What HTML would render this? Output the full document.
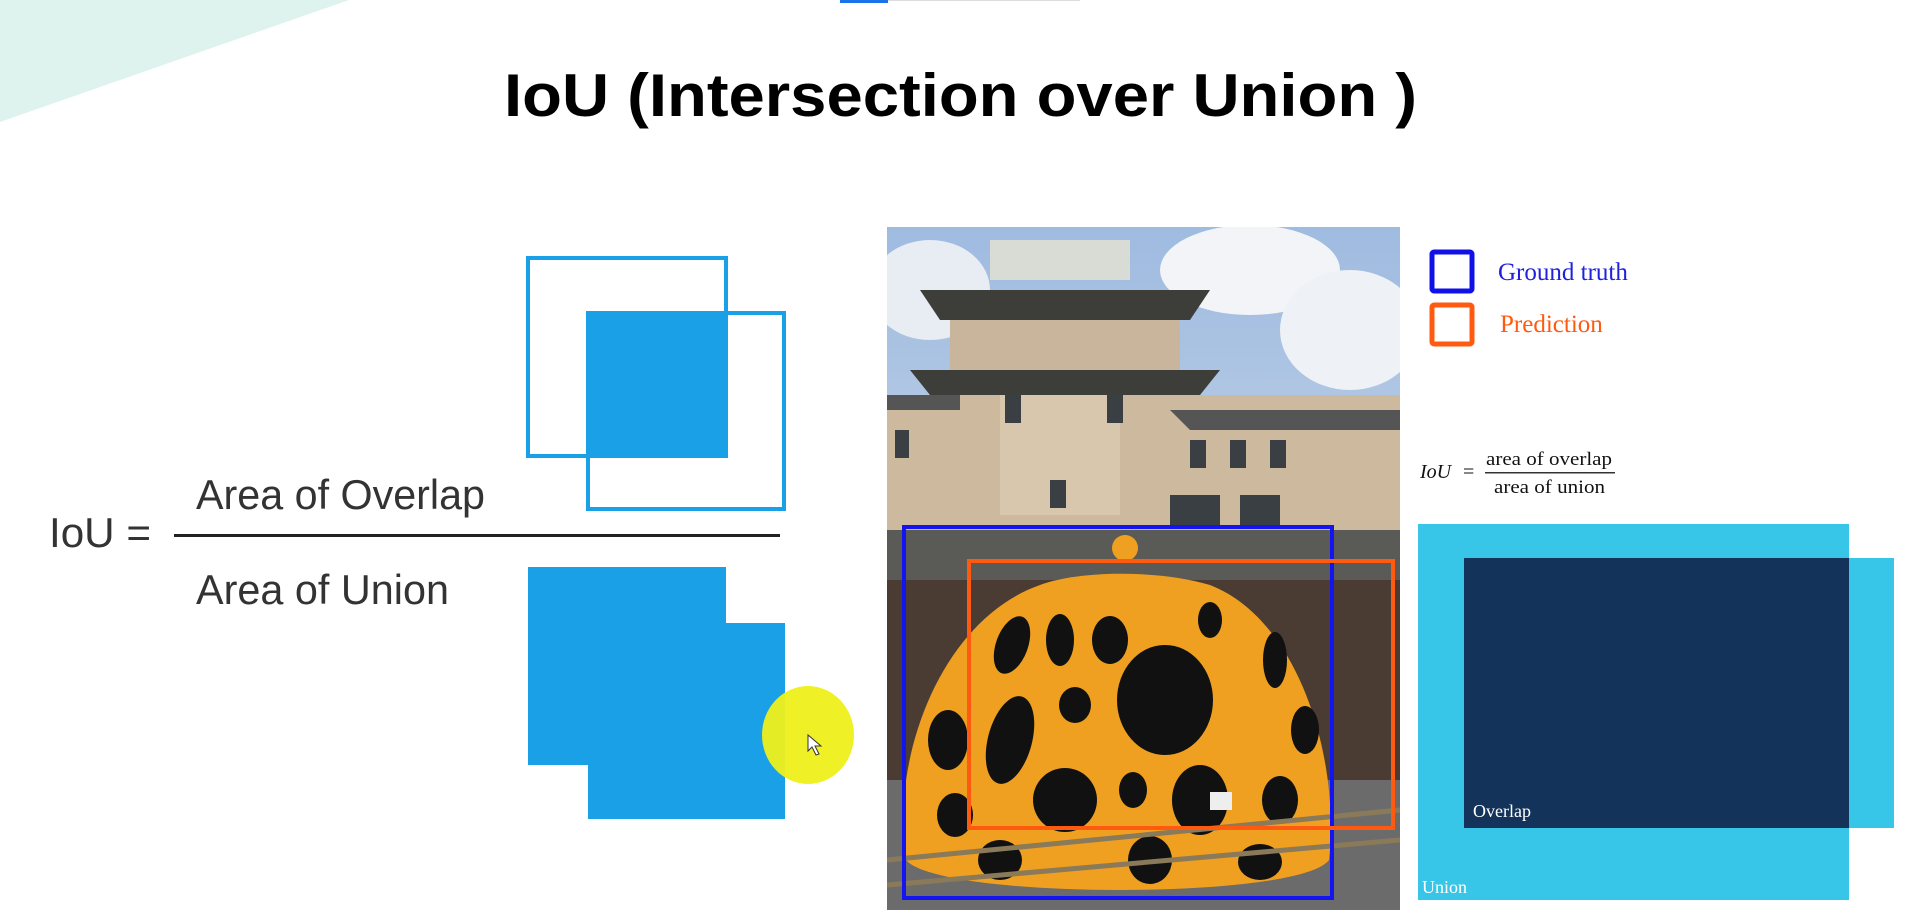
<!DOCTYPE html>
<html><head><meta charset="utf-8"><style>
html,body{margin:0;padding:0;background:#fff;}
svg{display:block;}
</style></head><body>
<svg width="1920" height="915" viewBox="0 0 1920 915" xmlns="http://www.w3.org/2000/svg">
<polygon points="0,0 349,0 0,122" fill="#dff3ee"/>
<rect x="840" y="0" width="48" height="3" fill="#1a73e8"/>
<rect x="888" y="0" width="192" height="1" fill="#ddd"/>
<text x="504" y="116" font-family="Liberation Sans, sans-serif" font-weight="bold" font-size="60" fill="#000" textLength="913" lengthAdjust="spacingAndGlyphs">IoU (Intersection over Union )</text>

<!-- left diagram -->
<rect x="528" y="258" width="198" height="198" fill="none" stroke="#1aa0e6" stroke-width="4"/>
<rect x="588" y="313" width="196" height="196" fill="none" stroke="#1aa0e6" stroke-width="4"/>
<rect x="588" y="313" width="138" height="143" fill="#1aa0e6"/>
<text x="49" y="547" font-family="Liberation Sans, sans-serif" font-size="42" fill="#333" textLength="102" lengthAdjust="spacingAndGlyphs">IoU =</text>
<text x="196" y="509" font-family="Liberation Sans, sans-serif" font-size="42" fill="#333" textLength="289" lengthAdjust="spacingAndGlyphs">Area of Overlap</text>
<rect x="174" y="534" width="606" height="3" fill="#222"/>
<text x="196" y="604" font-family="Liberation Sans, sans-serif" font-size="42" fill="#333" textLength="253" lengthAdjust="spacingAndGlyphs">Area of Union</text>
<rect x="528" y="567" width="198" height="198" fill="#1aa0e6"/>
<rect x="588" y="623" width="197" height="196" fill="#1aa0e6"/>
<ellipse cx="808" cy="735" rx="46" ry="49" fill="#eef01a" opacity="0.95"/>
<path d="M808,735 l0,16 l4,-4 l4,8 l3,-1 l-4,-8 l6,0 z" fill="#fff" stroke="#333" stroke-width="1"/>

<!-- photo -->
<defs>
<linearGradient id="sky" x1="0" y1="0" x2="0" y2="1"><stop offset="0" stop-color="#9fbbe0"/><stop offset="1" stop-color="#dfe6ee"/></linearGradient>
<clipPath id="pc"><rect x="887" y="227" width="513" height="683"/></clipPath>
</defs>
<g clip-path="url(#pc)">
<rect x="887" y="227" width="513" height="683" fill="url(#sky)"/>
<ellipse cx="1250" cy="270" rx="90" ry="45" fill="#f2f4f7"/>
<ellipse cx="1350" cy="330" rx="70" ry="60" fill="#eef1f5"/>
<ellipse cx="930" cy="290" rx="60" ry="50" fill="#e8edf3"/>
<!-- building -->
<rect x="990" y="240" width="140" height="40" fill="#d8dcd4"/>
<polygon points="920,290 1210,290 1190,320 940,320" fill="#3d3d3a"/>
<rect x="950" y="320" width="230" height="60" fill="#c8b59c"/>
<polygon points="910,370 1220,370 1200,395 930,395" fill="#3d3d3a"/>
<rect x="887" y="395" width="513" height="145" fill="#cdb99e"/>
<polygon points="887,395 960,395 960,410 887,410" fill="#555"/>
<polygon points="1170,410 1400,410 1400,430 1190,430" fill="#555"/>
<rect x="1000" y="395" width="120" height="120" fill="#d8c7ad"/>
<g fill="#3a3f44">
<rect x="1005" y="395" width="16" height="28"/><rect x="1107" y="395" width="16" height="28"/>
<rect x="1190" y="440" width="16" height="28"/><rect x="1230" y="440" width="16" height="28"/><rect x="1270" y="440" width="16" height="28"/>
<rect x="1050" y="480" width="16" height="28"/><rect x="1170" y="495" width="50" height="30"/><rect x="1240" y="495" width="40" height="30"/>
<rect x="895" y="430" width="14" height="28"/>
</g>
<polygon points="887,530 1400,530 1400,580 887,580" fill="#5a5a56"/>
<rect x="887" y="580" width="513" height="200" fill="#4a3c33"/>
<rect x="887" y="780" width="513" height="130" fill="#6b6b6b"/>
<!-- pumpkin -->
<path d="M906,860 C890,760 940,620 1040,585 C1080,570 1160,570 1210,585 C1300,620 1340,760 1329,860 C1300,900 940,900 906,860 Z" fill="#f0a020"/>
<g fill="#111">
<ellipse cx="1165" cy="700" rx="48" ry="55"/>
<ellipse cx="1012" cy="645" rx="16" ry="30" transform="rotate(20 1012 645)"/>
<ellipse cx="1060" cy="640" rx="14" ry="26"/>
<ellipse cx="1110" cy="640" rx="18" ry="24"/>
<ellipse cx="1210" cy="620" rx="12" ry="18"/>
<ellipse cx="1275" cy="660" rx="12" ry="28"/>
<ellipse cx="1305" cy="730" rx="14" ry="24"/>
<ellipse cx="1075" cy="705" rx="16" ry="18"/>
<ellipse cx="1010" cy="740" rx="22" ry="45" transform="rotate(15 1010 740)"/>
<ellipse cx="948" cy="740" rx="20" ry="30"/>
<ellipse cx="1065" cy="800" rx="32" ry="32"/>
<ellipse cx="1200" cy="800" rx="28" ry="35"/>
<ellipse cx="1133" cy="790" rx="14" ry="18"/>
<ellipse cx="1280" cy="800" rx="18" ry="24"/>
<ellipse cx="955" cy="815" rx="18" ry="22"/>
<ellipse cx="1000" cy="860" rx="22" ry="20"/>
<ellipse cx="1150" cy="860" rx="22" ry="24"/>
<ellipse cx="1260" cy="862" rx="22" ry="18"/>
</g>
<circle cx="1125" cy="548" r="13" fill="#f0a020"/>
<rect x="1210" y="792" width="22" height="18" fill="#eee"/>
<path d="M887,860 L1400,810" stroke="#8a7a5a" stroke-width="5"/>
<path d="M887,885 L1400,840" stroke="#8a7a5a" stroke-width="5"/>
</g>
<rect x="904" y="527" width="428" height="371" fill="none" stroke="#1414f0" stroke-width="4"/>
<rect x="969" y="561" width="424" height="267" fill="none" stroke="#ff5a10" stroke-width="4"/>

<!-- right -->
<rect x="1432" y="252" width="40" height="39" fill="none" stroke="#1010e8" stroke-width="5" rx="2"/>
<rect x="1432" y="305" width="40" height="39" fill="none" stroke="#ff5a10" stroke-width="5" rx="2"/>
<text x="1498" y="280" font-family="Liberation Serif, serif" font-size="25" fill="#2020dd">Ground truth</text>
<text x="1500" y="332" font-family="Liberation Serif, serif" font-size="25" fill="#ff5a10">Prediction</text>
<text x="1420" y="478" font-family="Liberation Serif, serif" font-size="20" font-style="italic" fill="#111">IoU</text>
<text x="1463" y="478" font-family="Liberation Serif, serif" font-size="20" fill="#111">=</text>
<text x="1486" y="465" font-family="Liberation Serif, serif" font-size="19" fill="#111" textLength="126" lengthAdjust="spacingAndGlyphs">area of overlap</text>
<rect x="1485" y="472" width="130" height="1.5" fill="#333"/>
<text x="1494" y="493" font-family="Liberation Serif, serif" font-size="19" fill="#111" textLength="111" lengthAdjust="spacingAndGlyphs">area of union</text>
<rect x="1418" y="524" width="431" height="376" fill="#38c6e8"/>
<rect x="1849" y="558" width="45" height="270" fill="#38c6e8"/>
<rect x="1464" y="558" width="385" height="270" fill="#14335a"/>
<text x="1473" y="817" font-family="Liberation Serif, serif" font-size="18" fill="#fff">Overlap</text>
<text x="1422" y="893" font-family="Liberation Serif, serif" font-size="18" fill="#fff">Union</text>
</svg>
</body></html>
